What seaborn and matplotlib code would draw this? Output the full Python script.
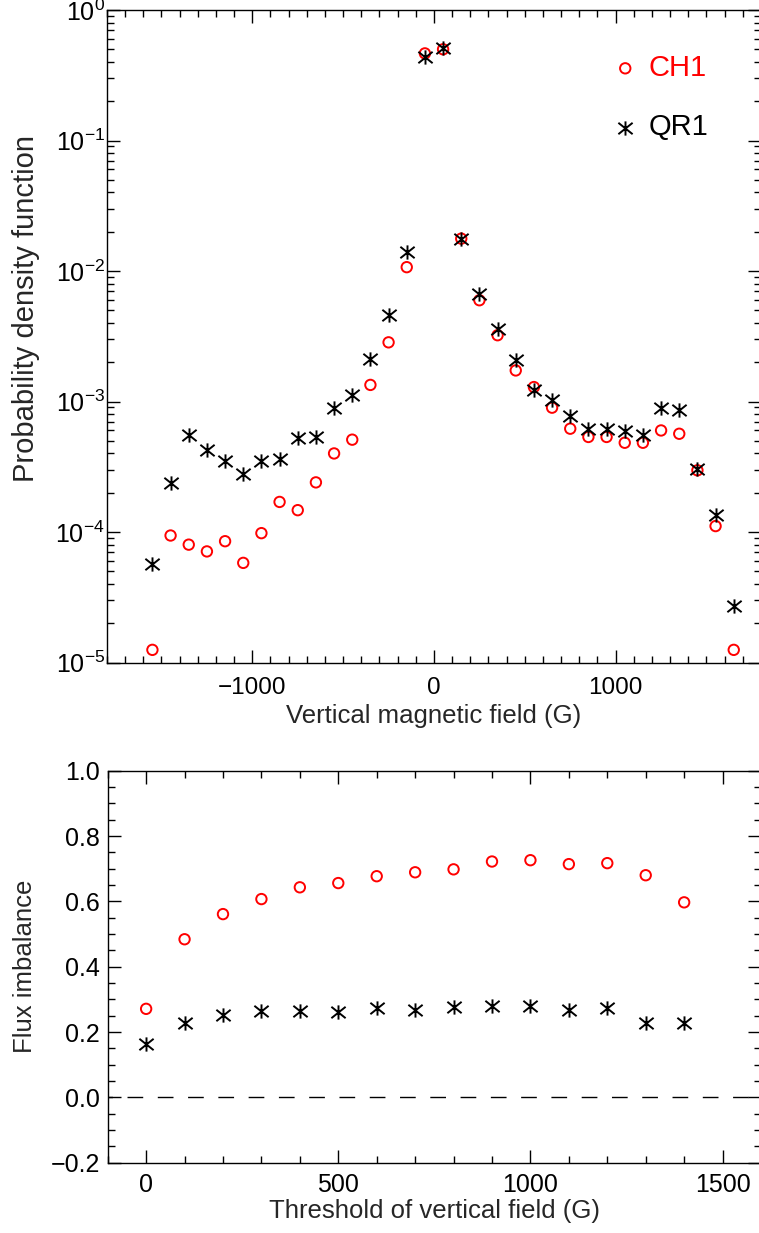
import numpy as np
import pandas as pd
import matplotlib
matplotlib.use("Agg")
import matplotlib.pyplot as plt
import seaborn as sns
from matplotlib.path import Path
from matplotlib.ticker import MultipleLocator, LogLocator, NullFormatter

# ---------------- data ----------------
bz = [-1550, -1450, -1350, -1250, -1150, -1050, -950, -850, -750, -650, -550,
      -450, -350, -250, -150, -50, 50, 150, 250, 350, 450, 550, 650, 750, 850,
      950, 1050, 1150, 1250, 1350, 1450, 1550, 1650]
pdf_ch1 = [1.25e-5, 9.4e-5, 8.0e-5, 7.1e-5, 8.5e-5, 5.8e-5, 9.8e-5, 1.7e-4,
           1.47e-4, 2.4e-4, 4.0e-4, 5.1e-4, 1.34e-3, 2.84e-3, 1.07e-2, 0.465,
           0.50, 1.77e-2, 5.97e-3, 3.22e-3, 1.73e-3, 1.29e-3, 8.97e-4, 6.19e-4,
           5.35e-4, 5.35e-4, 4.83e-4, 4.83e-4, 6.0e-4, 5.66e-4, 2.97e-4,
           1.11e-4, 1.25e-5]
pdf_qr1 = [5.7e-5, 2.39e-4, 5.5e-4, 4.22e-4, 3.48e-4, 2.76e-4, 3.52e-4, 3.6e-4,
           5.25e-4, 5.38e-4, 8.9e-4, 1.12e-3, 2.13e-3, 4.58e-3, 1.39e-2, 0.44,
           0.51, 1.77e-2, 6.7e-3, 3.62e-3, 2.07e-3, 1.22e-3, 1.02e-3, 7.7e-4,
           6.2e-4, 6.2e-4, 5.9e-4, 5.57e-4, 8.97e-4, 8.67e-4, 3.02e-4,
           1.34e-4, 2.7e-5]

threshold = [0, 100, 200, 300, 400, 500, 600, 700, 800, 900, 1000, 1100,
             1200, 1300, 1400]
imb_ch1 = [0.271, 0.484, 0.561, 0.607, 0.643, 0.656, 0.677, 0.689, 0.698,
           0.722, 0.726, 0.714, 0.717, 0.680, 0.597]
imb_qr1 = [0.162, 0.229, 0.253, 0.264, 0.264, 0.261, 0.273, 0.268, 0.278,
           0.280, 0.280, 0.267, 0.275, 0.227, 0.227]

labels = ["CH1", "QR1"]
colors = ["red", "black"]

df_pdf = pd.DataFrame({"bz": bz, "CH1": pdf_ch1, "QR1": pdf_qr1})
df_imb = pd.DataFrame({"thr": threshold, "CH1": imb_ch1, "QR1": imb_qr1})

# ---------------- style ----------------
sns.set_style("ticks")
plt.rcParams['font.family'] = ['Liberation Sans', 'DejaVu Sans']
plt.rcParams['mathtext.fontset'] = 'custom'
plt.rcParams['mathtext.rm'] = 'Liberation Sans'
plt.rcParams['mathtext.it'] = 'Liberation Sans:italic'
plt.rcParams['mathtext.bf'] = 'Liberation Sans:bold'
plt.rcParams['mathtext.default'] = 'regular'
plt.rcParams['axes.unicode_minus'] = True

star = Path([(0, -1), (0, 1), (-1, -0.8), (1, 0.8), (-1, 0.8), (1, -0.8)],
            [Path.MOVETO, Path.LINETO] * 3)

fig = plt.figure(figsize=(7.59, 12.33), dpi=100)
ax1 = fig.add_axes([0.14097, 0.46269, 0.86166, 0.52920])
ax2 = fig.add_axes([0.1419, 0.05702, 0.86074, 0.31792])


def style_axes(ax):
    for s in ax.spines.values():
        s.set_linewidth(1.0)
        s.set_color("black")
    ax.tick_params(which="both", direction="in", top=True, right=True,
                   colors="black")
    ax.tick_params(which="major", length=9.4, width=1.0)
    ax.tick_params(which="minor", length=5.0, width=1.0)


def draw(ax, df, xcol):
    sns.scatterplot(data=df, x=xcol, y="CH1", ax=ax, marker="o", s=56,
                    color=colors[0], facecolor="none", edgecolor=colors[0],
                    linewidth=1.4, label=labels[0], zorder=3)
    sns.scatterplot(data=df, x=xcol, y="QR1", ax=ax, marker=star, s=105,
                    color=colors[1], edgecolor=colors[1], linewidth=1.4,
                    label=labels[1], zorder=4)


# ---------------- top panel ----------------
draw(ax1, df_pdf, "bz")
ax1.set_yscale("log")
ax1.set_xlim(-1800, 1800)
ax1.set_ylim(1e-5, 1)
ax1.xaxis.set_major_locator(MultipleLocator(1000))
ax1.xaxis.set_minor_locator(MultipleLocator(100))
ax1.yaxis.set_major_locator(LogLocator(base=10, numticks=12))
ax1.yaxis.set_minor_locator(LogLocator(base=10, subs=np.arange(2, 10), numticks=12))
ax1.yaxis.set_minor_formatter(NullFormatter())
style_axes(ax1)
ax1.tick_params(axis="x", which="major", labelsize=17.5, pad=10.4)
ax1.tick_params(axis="y", which="major", labelsize=18, pad=1.5)
ax1.set_xlabel("Vertical magnetic field (G)", fontsize=18.5)
ax1.set_ylabel("Probability density function", fontsize=21)
ax1.xaxis.set_label_coords(0.5, -0.064)
ax1.yaxis.set_label_coords(-0.103, 0.542)

leg = ax1.legend(frameon=False, fontsize=21, loc="upper left",
                 bbox_to_anchor=(0.7746, 0.9326), borderaxespad=0,
                 borderpad=0, handlelength=0.8, handletextpad=0.39,
                 labelspacing=1.07, labelcolor=colors)

# ---------------- bottom panel ----------------
draw(ax2, df_imb, "thr")
ax2.axhline(0, color="black", lw=1.0, ls=(8.1, (11.3, 10.5)), zorder=2)
ax2.set_xlim(-100, 1600)
ax2.set_ylim(-0.2, 1.0)
ax2.xaxis.set_major_locator(MultipleLocator(500))
ax2.xaxis.set_minor_locator(MultipleLocator(100))
ax2.yaxis.set_major_locator(MultipleLocator(0.2))
ax2.yaxis.set_minor_locator(MultipleLocator(0.05))
style_axes(ax2)
ax2.tick_params(axis="x", which="major", labelsize=18, pad=7.4)
ax2.tick_params(axis="y", which="major", labelsize=18, pad=5.5)
ax2.set_xlabel("Threshold of vertical field (G)", fontsize=18.5)
ax2.set_ylabel("Flux imbalance", fontsize=18.5)
ax2.xaxis.set_label_coords(0.5, -0.0926)
ax2.yaxis.set_label_coords(-0.1086, 0.5)
if ax2.get_legend() is not None:
    ax2.get_legend().remove()

fig.savefig("out.png", dpi=100)
